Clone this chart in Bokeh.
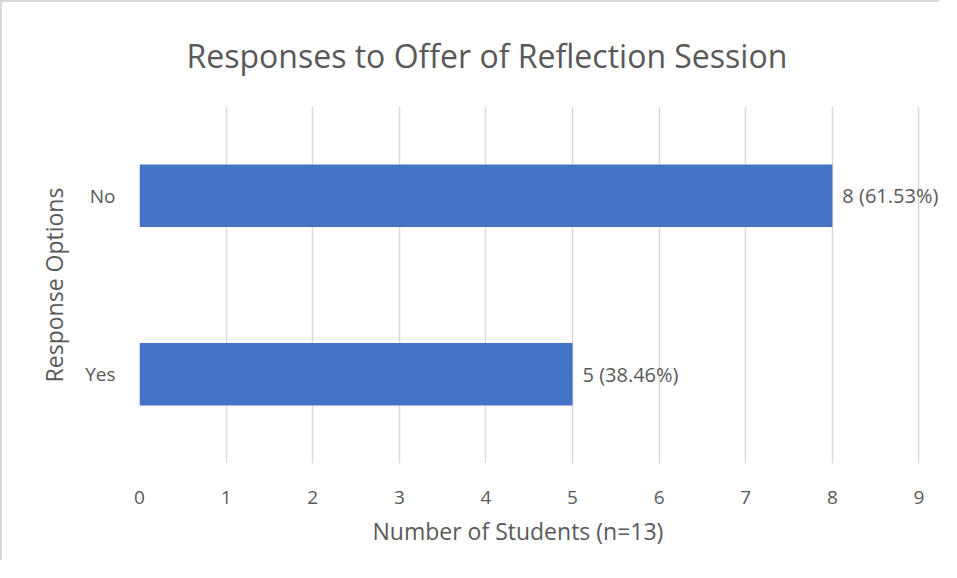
from bokeh.plotting import figure
from bokeh.models import ColumnDataSource, LabelSet, Range1d, FactorRange, FixedTicker, Title
from bokeh.core.properties import value
from bokeh.embed import file_html
from bokeh.resources import INLINE

categories = ["Yes", "No"]
counts = [5, 8]
labels = ["5 (38.46%)", "8 (61.53%)"]
x_ticks = [0, 1, 2, 3, 4, 5, 6, 7, 8, 9]

FONT = "Open Sans"
TXT = "#595959"

src = ColumnDataSource(dict(cat=categories, n=counts, lab=labels))

p = figure(width=939, height=560, output_backend="svg", toolbar_location=None,
           y_range=FactorRange(factors=categories, range_padding=0),
           x_range=Range1d(0, 9.26))
p.styles = {"border-top": "2px solid #d9d9d9", "border-left": "2px solid #d9d9d9"}

p.min_border_left = 137
p.min_border_right = 0
p.min_border_top = 103
p.min_border_bottom = 99

p.hbar(y="cat", right="n", left=0, height=0.35, source=src, color="#4472C4", line_color=None)

ls = LabelSet(x="n", y="cat", text="lab", source=src, x_offset=10, text_baseline="middle",
              text_font=value(FONT), text_font_size="20px", text_color=TXT)
p.add_layout(ls)

p.title.text = "Responses to Offer of Reflection Session"
p.title.align = "left"
p.title.offset = 47
p.title.text_font = FONT
p.title.text_font_size = "32px"
p.title.text_font_style = "normal"
p.title.text_color = TXT
p.title.standoff = 59

p.outline_line_color = None
p.ygrid.grid_line_color = None
p.xgrid.grid_line_color = "#d9d9d9"
p.xgrid.grid_line_width = 1.5
p.xaxis.ticker = FixedTicker(ticks=x_ticks)

for ax in (p.xaxis[0], p.yaxis[0]):
    ax.axis_line_color = None
    ax.major_tick_line_color = None
    ax.minor_tick_line_color = None
    ax.major_tick_out = 0
    ax.major_tick_in = 0
    ax.major_label_text_font = FONT
    ax.major_label_text_font_size = "19px"
    ax.major_label_text_color = TXT
    ax.axis_label_text_font = FONT
    ax.axis_label_text_font_size = "23px"
    ax.axis_label_text_font_style = "normal"
    ax.axis_label_text_color = TXT

p.xaxis.major_label_standoff = 27
xtitle = Title(text="Number of Students (n=13)", align="left", offset=233,
               text_font=FONT, text_font_size="23px", text_font_style="normal",
               text_color=TXT, standoff=13)
p.add_layout(xtitle, "below")

p.yaxis.axis_label = "Response Options"
p.yaxis.major_label_standoff = 24
p.yaxis.axis_label_standoff = 12

open("out.html", "w").write(file_html(p, INLINE))
